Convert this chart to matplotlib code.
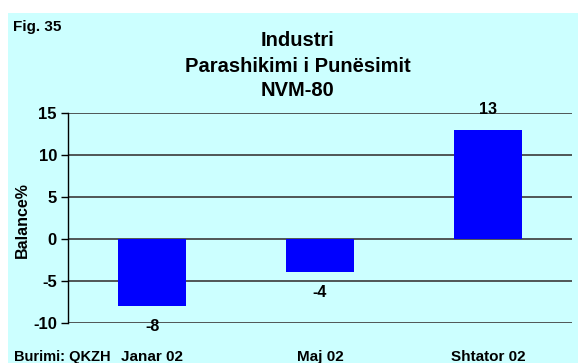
import matplotlib
matplotlib.use("Agg")
import matplotlib.pyplot as plt
from matplotlib.patches import Rectangle

categories = ["Janar 02", "Maj 02", "Shtator 02"]
values = [-8, -4, 13]
yticks = [-10, -5, 0, 5, 10, 15]

plt.rcParams['font.family'] = ['Liberation Sans', 'DejaVu Sans']
plt.rcParams['font.weight'] = 'bold'

W, H = 578, 363
fig = plt.figure(figsize=(W / 100, H / 100), dpi=100)
fig.patch.set_facecolor("white")

# light cyan chart area
fig.add_artist(Rectangle((8 / W, 0), 1 - 8 / W, 1 - 13 / H,
                         transform=fig.transFigure, facecolor="#CCFFFF",
                         edgecolor="none", zorder=0))

ax = fig.add_axes([68 / W, 1 - 322.7 / H, (572 - 68) / W, (322.7 - 113) / H])
ax.set_facecolor("none")

x = range(len(categories))
ax.bar(x, values, width=0.405, color="#0000FF", zorder=3)

ax.set_xlim(-0.5, len(categories) - 0.5)
ax.set_ylim(-10, 15)
ax.set_yticks(yticks)
ax.set_yticklabels([str(v) for v in yticks], fontsize=12, fontweight="bold")
ax.yaxis.grid(True, color="#3a3a3a", linewidth=1.2, zorder=1)
ax.set_axisbelow(True)
ax.set_xticks(list(x))
ax.set_xticklabels(categories, fontsize=11, fontweight="bold")
ax.tick_params(axis="x", length=0, pad=20)
ax.tick_params(axis="y", length=5, width=1, color="black", pad=3)

for s in ["top", "right", "bottom"]:
    ax.spines[s].set_visible(False)
ax.spines["left"].set_color("black")
ax.spines["left"].set_linewidth(1)

fig.text(22 / W, 1 - 220.5 / H, "Balance%", rotation=90, ha="center", va="center",
         fontsize=11.5, fontweight="bold")

for xi, v in zip(x, values):
    off = 14.5 if v >= 0 else -14.5
    ax.annotate(str(v), (xi, v), xytext=(0, off), textcoords="offset points",
                ha="center", va="center", fontsize=11.5, fontweight="bold", zorder=4)

fig.text(298 / W, 1 - 40 / H, "Industri", ha="center", va="center",
         fontsize=14.5, fontweight="bold")
fig.text(298 / W, 1 - 66 / H, "Parashikimi i Punësimit", ha="center", va="center",
         fontsize=14.5, fontweight="bold")
fig.text(298 / W, 1 - 91 / H, "NVM-80", ha="center", va="center",
         fontsize=14.5, fontweight="bold")

fig.text(13 / W, 1 - 27 / H, "Fig. 35", ha="left", va="center",
         fontsize=11, fontweight="bold")
fig.text(14 / W, 1 - 361.5 / H, "Burimi: QKZH", ha="left", va="baseline",
         fontsize=10.5, fontweight="bold")

fig.savefig("out.png", dpi=100)
